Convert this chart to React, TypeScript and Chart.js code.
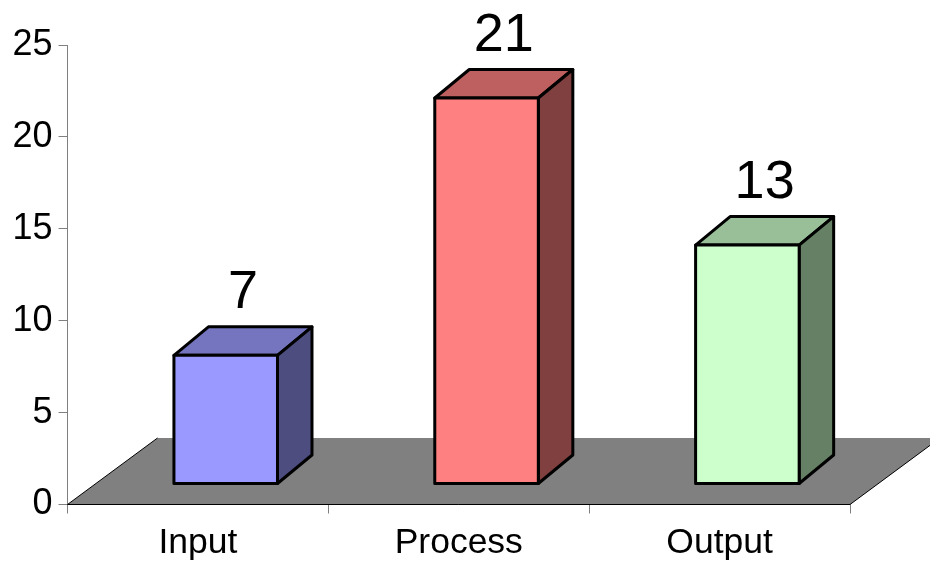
import React, { useEffect, useRef } from "react";
import { Chart, registerables } from "chart.js";

Chart.register(...registerables);

const categories = ["Input", "Process", "Output"];
const values = [7, 21, 13];

const FONT = "'Liberation Sans', Arial, sans-serif";
const frontColors = ["#9999FF", "#FF8080", "#CCFFCC"];
const topColors = ["#7575BF", "#BF6060", "#99BF99"];
const sideColors = ["#4D4D80", "#804040", "#668066"];

const barShiftX = 27.8;
const barShiftY = -20.5;
const depthX = 34.5;
const depthY = -28.5;
const floorDx = 90;
const floorDy = -66.5;

const poly = (ctx: CanvasRenderingContext2D, pts: number[][], fill: string, stroke: string, lw: number) => {
  ctx.beginPath();
  pts.forEach((p, i) => (i === 0 ? ctx.moveTo(p[0], p[1]) : ctx.lineTo(p[0], p[1])));
  ctx.closePath();
  ctx.fillStyle = fill;
  ctx.fill();
  if (lw > 0) {
    ctx.strokeStyle = stroke;
    ctx.lineWidth = lw;
    ctx.lineJoin = "round";
    ctx.stroke();
  }
};

const bars3d = {
  id: "bars3d",
  beforeDatasetsDraw(chart: any) {
    const { ctx, chartArea } = chart;
    const { left, right, bottom } = chartArea;
    ctx.save();
    // floor
    ctx.beginPath();
    ctx.moveTo(left, bottom);
    ctx.lineTo(left + floorDx, bottom + floorDy);
    ctx.lineTo(right + floorDx, bottom + floorDy);
    ctx.lineTo(right, bottom);
    ctx.closePath();
    ctx.fillStyle = "#808080";
    ctx.fill();
    ctx.strokeStyle = "#000000";
    ctx.lineWidth = 1;
    ctx.beginPath();
    ctx.moveTo(left + floorDx, bottom + floorDy);
    ctx.lineTo(left, bottom);
    ctx.lineTo(right, bottom);
    ctx.lineTo(right + floorDx, bottom + floorDy);
    ctx.stroke();
    ctx.restore();

    ctx.save();
    ctx.translate(barShiftX, barShiftY);
    const meta = chart.getDatasetMeta(0);
    meta.data.forEach((bar: any, i: number) => {
      const l = bar.x - bar.width / 2;
      const r = bar.x + bar.width / 2;
      const t = bar.y;
      const b = bar.base;
      poly(ctx, [[l, t], [l + depthX, t + depthY], [r + depthX, t + depthY], [r, t]], topColors[i], "#000", 3);
      poly(ctx, [[r, t], [r + depthX, t + depthY], [r + depthX, b + depthY], [r, b]], sideColors[i], "#000", 3);
    });
  },
  afterDatasetsDraw(chart: any) {
    const { ctx } = chart;
    const meta = chart.getDatasetMeta(0);
    // outline of the front faces, still in the shifted frame
    meta.data.forEach((bar: any) => {
      ctx.strokeStyle = "#000";
      ctx.lineWidth = 3;
      ctx.lineJoin = "round";
      ctx.strokeRect(bar.x - bar.width / 2, bar.y, bar.width, bar.base - bar.y);
    });
    ctx.restore();
    ctx.save();
    ctx.font = `54px ${FONT}`;
    ctx.fillStyle = "#000";
    ctx.textAlign = "center";
    ctx.textBaseline = "alphabetic";
    meta.data.forEach((bar: any, i: number) => {
      ctx.fillText(String(values[i]), bar.x + barShiftX + depthX / 2, bar.y + barShiftY - 47);
    });
    ctx.restore();
  },
};

export default function App() {
  const ref = useRef<HTMLCanvasElement>(null);
  useEffect(() => {
    document.body.style.margin = "0";
    document.body.style.background = "#fff";
    const chart = new Chart(ref.current!, {
      type: "bar",
      plugins: [bars3d],
      data: {
        labels: categories,
        datasets: [
          {
            data: values,
            backgroundColor: frontColors,
            borderWidth: 0,
            barPercentage: 0.397,
            categoryPercentage: 1,
          },
        ],
      },
      options: {
        responsive: false,
        animation: false,
        devicePixelRatio: 1,
        layout: { padding: { top: 45, right: 80, left: 0, bottom: 0 } },
        plugins: { legend: { display: false }, tooltip: { enabled: false }, title: { display: false } },
        scales: {
          x: {
            afterFit: (s: any) => {
              s.height = 57.5;
            },
            grid: { drawOnChartArea: false, drawTicks: true, tickLength: 9, color: "#808080", offset: true },
            border: { color: "#808080", width: 1 },
            ticks: { color: "#000", font: { family: FONT, size: 35.5 }, padding: 8, maxRotation: 0 },
          },
          y: {
            min: 0,
            max: 25,
            afterFit: (s: any) => {
              s.width = 67.5;
            },
            grid: { drawOnChartArea: false, drawTicks: true, tickLength: 9, color: "#808080" },
            border: { color: "#808080", width: 1 },
            ticks: { stepSize: 5, color: "#000", font: { family: FONT, size: 36 }, padding: 6 },
          },
        },
      },
    } as any);
    return () => chart.destroy();
  }, []);
  return (
    <div style={{ width: 930, height: 562, overflow: "hidden" }}>
      <canvas ref={ref} width={930} height={562} style={{ display: "block" }} />
    </div>
  );
}
